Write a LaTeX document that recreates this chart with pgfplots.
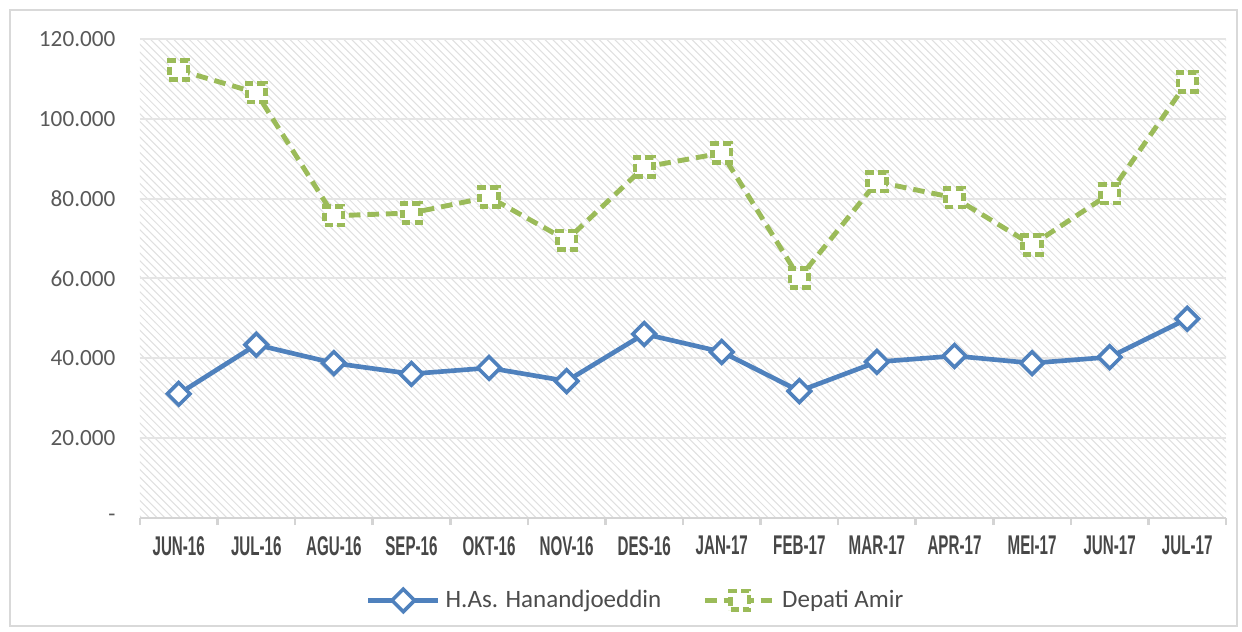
\documentclass[border=0pt]{standalone}
\usepackage{fontspec}
\setmainfont{Carlito}
\newfontfamily\tickfont{Liberation Sans}[FakeStretch=0.56]
\usepackage{pgfplots}
\pgfplotsset{compat=1.18}
\usetikzlibrary{patterns}

\definecolor{cBlue}{HTML}{4F81BD}
\definecolor{cGreen}{HTML}{9BBB59}

\begin{document}
\begin{tikzpicture}
\begin{axis}[
    name=ax,
    scale only axis,
    width=421.4pt, height=185.9pt,
    xmin=-0.5, xmax=13.5,
    ymin=0, ymax=120000,
    axis background/.style={pattern=north west lines, pattern color=black!12},
    axis x line*=bottom,
    axis y line*=left,
    y axis line style={draw=none},
    x axis line style={draw=black!17, line width=1pt},
    xtick={0,...,13},
    xticklabels={JUN-16,JUL-16,AGU-16,SEP-16,OKT-16,NOV-16,DES-16,JAN-17,FEB-17,MAR-17,APR-17,MEI-17,JUN-17,JUL-17},
    minor xtick={-0.5,0.5,...,13.5},
    major tick length=0pt,
    minor tick length=2.8pt,
    tick align=outside,
    minor x tick style={draw=black!17, line width=1pt},
    ytick style={draw=none},
    ytick={0,20000,...,120000},
    yticklabels={-,20.000,40.000,60.000,80.000,100.000,120.000},
    scaled y ticks=false,
    ymajorgrids,
    grid style={black!10, line width=0.8pt},
    x tick label style={font=\tickfont\bfseries\fontsize{10.5}{12}\selectfont, text=black!72, yshift=-3.5pt},
    y tick label style={font=\fontsize{9}{11}\selectfont, text=black!65, xshift=-6pt},
    legend style={at={(0.458,-0.172)}, anchor=center, draw=none, fill=none,
        font=\fontsize{9.7}{11}\selectfont, text=black!70,
        /tikz/every even column/.append style={column sep=14pt}},
    legend columns=2,
    legend image code/.code={\draw[mark repeat=2,mark phase=2] plot coordinates {(0pt,0pt) (13.5pt,0pt) (27pt,0pt)};},
    clip=false,
]
\addplot[color=cBlue, line width=1.8pt, mark=square*, mark size=3.1pt,
    mark options={rotate=45, fill=white, line width=1.4pt, solid}]
coordinates {
(0,31100) (1,43400) (2,38800) (3,36100) (4,37600) (5,34300) (6,46100)
(7,41600) (8,31800) (9,39100) (10,40600) (11,38800) (12,40300) (13,49900)
};
\addplot[color=cGreen, line width=1.9pt, dash pattern=on 4.5pt off 2.7pt,
    mark=square*, mark size=3.6pt,
    mark options={fill=white, line width=1.8pt, dash pattern=on 3.2pt off 1.6pt}]
coordinates {
(0,112200) (1,106500) (2,75700) (3,76400) (4,80400) (5,69600) (6,87900)
(7,91400) (8,60100) (9,84200) (10,80200) (11,68400) (12,81200) (13,109200)
};
\legend{H.As. Hanandjoeddin, Depati Amir}
\end{axis}
\draw[black!15, line width=0.8pt] ([shift={(-50.4pt,-41.9pt)}]ax.south west) rectangle ([shift={(4.3pt,11.3pt)}]ax.north east);
\path ([shift={(-54.3pt,-43.9pt)}]ax.south west) rectangle ([shift={(6.2pt,15.1pt)}]ax.north east);
\end{tikzpicture}
\end{document}
